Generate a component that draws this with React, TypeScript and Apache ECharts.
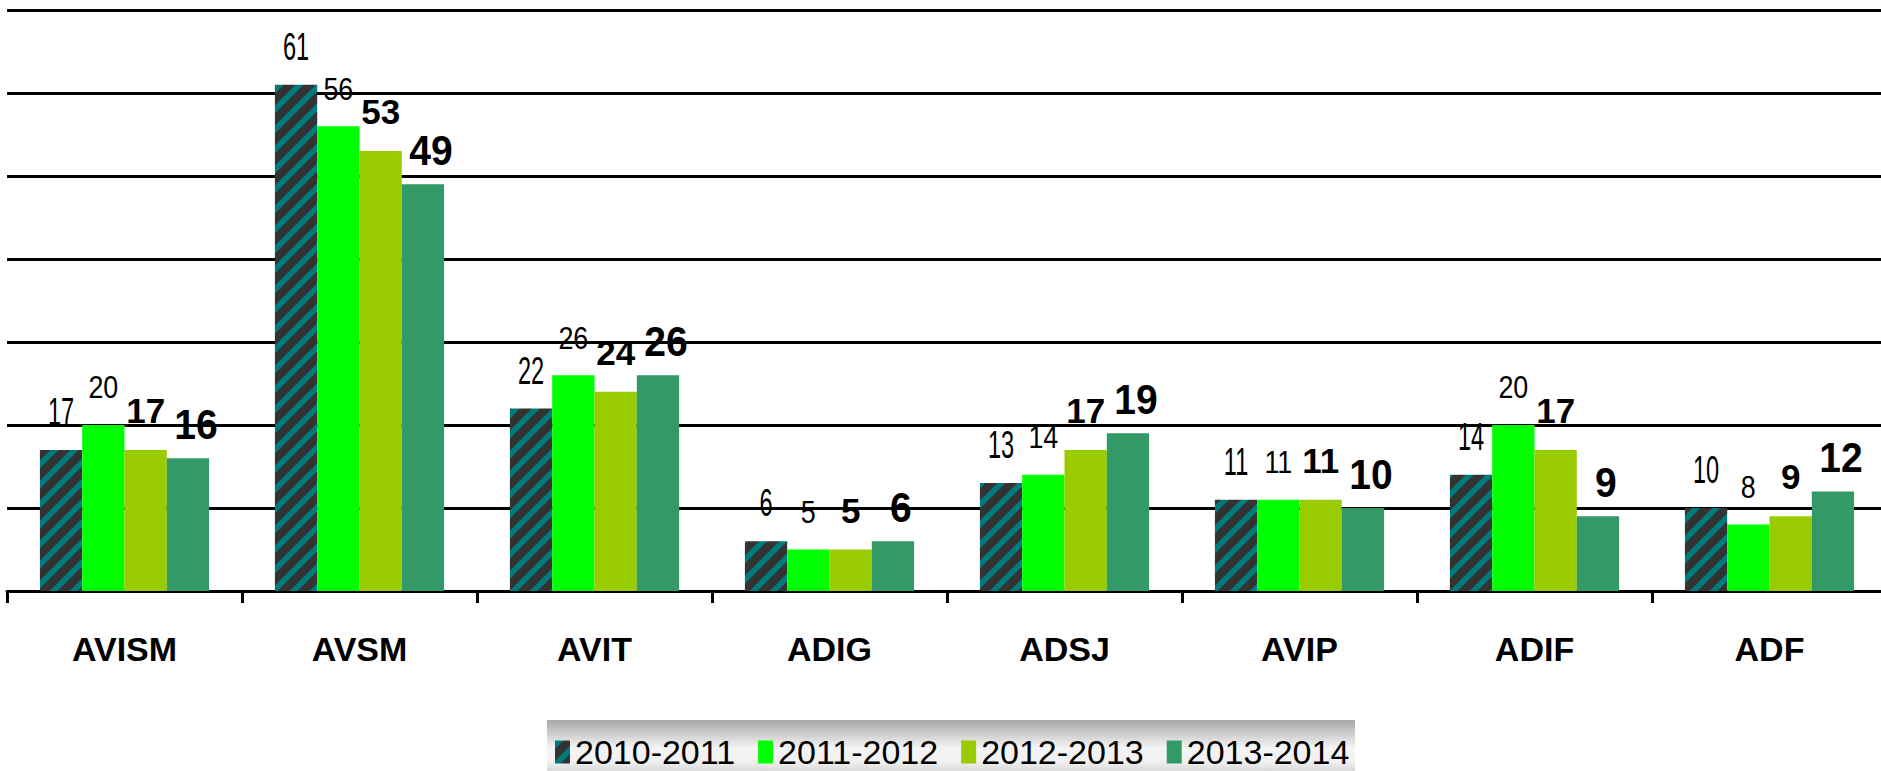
import React, { useEffect, useRef } from "react";
import * as echarts from "echarts";

const categories = ["AVISM", "AVSM", "AVIT", "ADIG", "ADSJ", "AVIP", "ADIF", "ADF"];
const seriesNames = ["2010-2011", "2011-2012", "2012-2013", "2013-2014"];
const s2010 = [17, 61, 22, 6, 13, 11, 14, 10];
const s2011 = [20, 56, 26, 5, 14, 11, 20, 8];
const s2012 = [17, 53, 24, 5, 17, 11, 17, 9];
const s2013 = [16, 49, 26, 6, 19, 10, 9, 12];
const yMax = 70;
const yInterval = 10;

const FONT = "'Liberation Sans', Arial, sans-serif";
const BAR_FRAC = 0.18;

function makeHatch() {
  const P = 20;
  const c = document.createElement("canvas");
  c.width = P;
  c.height = P;
  const ctx = c.getContext("2d")!;
  ctx.fillStyle = "#333333";
  ctx.fillRect(0, 0, P, P);
  ctx.fillStyle = "#007b7b";
  for (let y = 0; y < P; y++) {
    for (let x = 0; x < P; x++) {
      if ((x + y) % P < 8) ctx.fillRect(x, y, 1, 1);
    }
  }
  return { image: c, repeat: "repeat", imageWidth: P, imageHeight: P } as any;
}

// label styles per series: font size, weight, horizontal squeeze, lift above bar top, x shift
const labelStyles = [
  { size: 38, weight: "normal", sx: 0.62, lift: 19, dx: 0 },
  { size: 32, weight: "normal", sx: 0.84, lift: 22, dx: 0 },
  { size: 35, weight: "bold", sx: 1.0, lift: 22, dx: 0 },
  { size: 42, weight: "bold", sx: 0.93, lift: 13, dx: 8 },
];

export default function App() {
  const ref = useRef<HTMLDivElement>(null);
  useEffect(() => {
    if (!ref.current) return;
    const chart = echarts.init(ref.current, null, { renderer: "svg" });
    const hatch = makeHatch();
    const datas = [s2010, s2011, s2012, s2013];
    const colors = [hatch, "#00ff00", "#99cc00", "#339966"];

    const barSeries = seriesNames.map((name, i) => ({
      name,
      type: "bar",
      data: datas[i],
      barWidth: BAR_FRAC * 100 + "%",
      barGap: "0%",
      itemStyle: { color: colors[i] },
    }));

    const labelSeries = seriesNames.map((name, i) => {
      const ls = labelStyles[i];
      return {
        name: "label-" + name,
        type: "custom",
        silent: true,
        z: 5,
        data: datas[i].map((v, k) => [k, v]),
        encode: { x: 0, y: 1 },
        renderItem: (params: any, api: any) => {
          const idx = api.value(0);
          const val = api.value(1);
          const pt = api.coord([idx, val]);
          const band = api.size([1, 0])[0];
          const x = pt[0] + (i - 1.5) * BAR_FRAC * band + ls.dx;
          return {
            type: "text",
            x,
            y: pt[1] - ls.lift,
            scaleX: ls.sx,
            style: {
              text: String(val),
              fill: "#000",
              fontFamily: FONT,
              fontSize: ls.size,
              fontWeight: ls.weight,
              align: "center",
              verticalAlign: "bottom",
            },
          };
        },
      };
    });

    chart.setOption({
      animation: false,
      grid: { left: 7, right: 7, top: 10, bottom: 180, containLabel: false },
      graphic: [
        {
          type: "rect",
          z: 0,
          shape: { x: 547, y: 720, width: 808, height: 70 },
          style: {
            fill: new echarts.graphic.LinearGradient(0, 0, 0, 1, [
              { offset: 0, color: "#a8a8a8" },
              { offset: 0.4, color: "#f4f4f4" },
              { offset: 0.6, color: "#f0f0f0" },
              { offset: 1, color: "#a8a8a8" },
            ]),
          },
        },
      ],
      legend: {
        data: seriesNames,
        left: 555,
        top: 735,
        padding: 0,
        itemWidth: 15,
        itemHeight: 23,
        itemGap: 23,
        icon: "rect",
        z: 10,
        textStyle: {
          fontFamily: FONT,
          fontSize: 34,
          lineHeight: 34,
          color: "#000",
          padding: [0, 0, 0, 0],
        },
      },
      xAxis: {
        type: "category",
        data: categories,
        axisLine: { show: true, lineStyle: { color: "#000", width: 3 } },
        axisTick: { show: true, length: 12, lineStyle: { color: "#000", width: 3 } },
        axisLabel: {
          color: "#000",
          fontFamily: FONT,
          fontWeight: "bold",
          fontSize: 34,
          margin: 41,
        },
      },
      yAxis: {
        type: "value",
        min: 0,
        max: yMax,
        interval: yInterval,
        axisLabel: { show: false },
        axisLine: { show: false },
        axisTick: { show: false },
        splitLine: { show: true, lineStyle: { color: "#000", width: 3 } },
      },
      series: [...barSeries, ...labelSeries],
    });
    return () => chart.dispose();
  }, []);
  return (
    <div style={{ position: "fixed", left: 0, top: 0, width: 1881, height: 771, overflow: "hidden", background: "#fff" }}>
      <div ref={ref} style={{ width: 1894, height: 771 }} />
    </div>
  );
}
